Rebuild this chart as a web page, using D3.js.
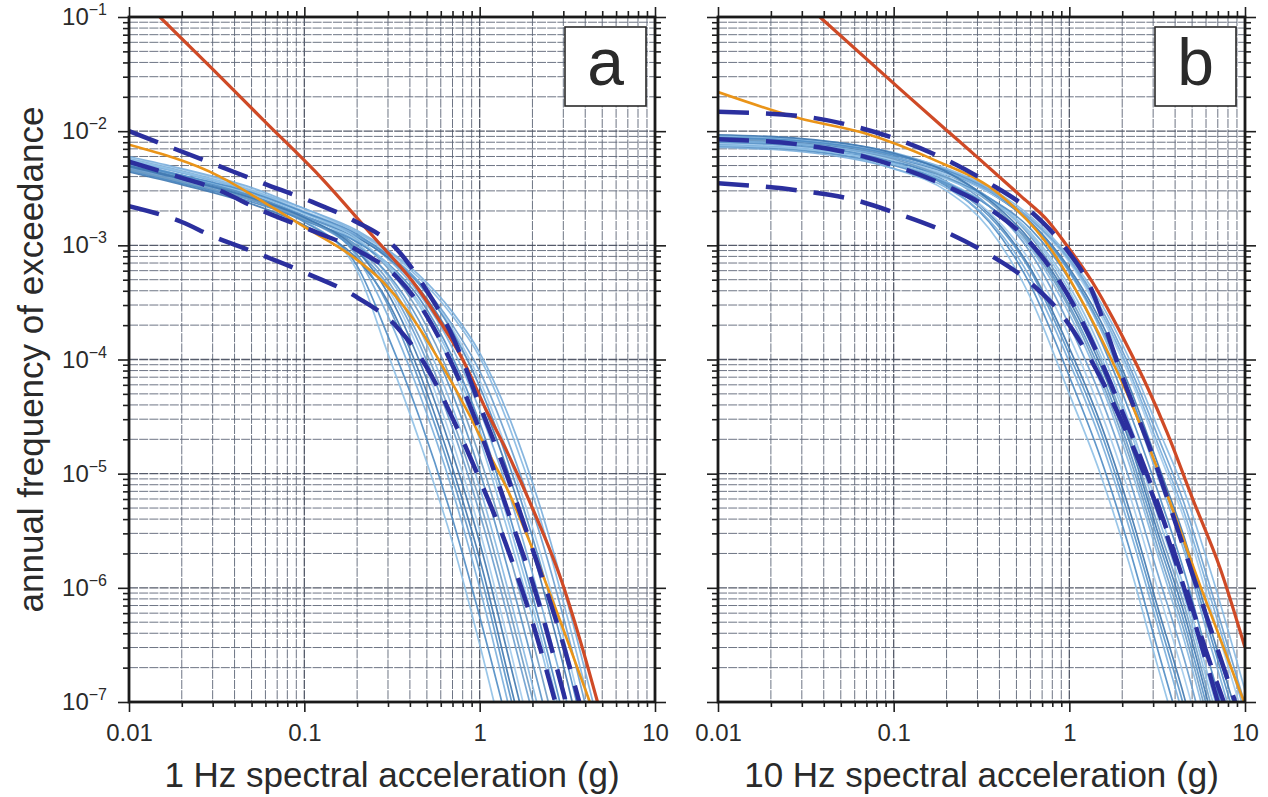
<!DOCTYPE html>
<html>
<head>
<meta charset="utf-8">
<script src="https://cdn.jsdelivr.net/npm/d3@7"></script>
<style>
  body { margin: 0; background: #fff; }
  svg { display: block; }
  text { font-family: "Liberation Sans", Arial, Helvetica, sans-serif; fill: #2a2a2a; }
</style>
</head>
<body>
<svg id="chart" width="1268" height="797"></svg>
<script>
// ---------- axis ticks ----------
const xTickValues = [0.01, 0.1, 1, 10];
const xTickLabels = ["0.01", "0.1", "1", "10"];
const yTickExponents = [-1, -2, -3, -4, -5, -6, -7];

// ---------- panel a : 1 Hz ----------
const saGridA = [0.01, 0.02, 0.05, 0.1, 0.2, 0.3, 0.45, 0.7, 1, 1.5, 2.2, 3.2, 4.5];
const branchesA = [
  [5.0e-3, 3.8e-3, 2.6e-3, 1.66e-3, 6.0e-4, 1.12e-4, 2.0e-5, 2.5e-6, 3.2e-7, 2.5e-8],
  [4.6e-3, 3.5e-3, 2.4e-3, 1.6e-3, 6.6e-4, 1.6e-4, 3.2e-5, 4.0e-6, 5.6e-7, 5.0e-8],
  [5.4e-3, 4.1e-3, 2.8e-3, 1.8e-3, 7.9e-4, 2.4e-4, 5.2e-5, 7.1e-6, 1.0e-6, 7.9e-8],
  [4.4e-3, 3.4e-3, 2.3e-3, 1.5e-3, 7.6e-4, 3.2e-4, 7.9e-5, 1.12e-5, 1.8e-6, 1.4e-7, 1.26e-8],
  [5.6e-3, 4.3e-3, 2.9e-3, 1.86e-3, 9.5e-4, 4.2e-4, 1.2e-4, 1.9e-5, 3.2e-6, 2.8e-7, 2.5e-8],
  [4.9e-3, 3.8e-3, 2.6e-3, 1.7e-3, 8.9e-4, 4.5e-4, 1.4e-4, 2.5e-5, 4.5e-6, 4.5e-7, 4.5e-8],
  [5.2e-3, 4.1e-3, 2.8e-3, 1.8e-3, 1.05e-3, 5.4e-4, 1.9e-4, 3.8e-5, 7.6e-6, 7.9e-7, 7.9e-8],
  [4.7e-3, 3.6e-3, 2.5e-3, 1.66e-3, 1.0e-3, 5.6e-4, 2.2e-4, 5.0e-5, 1.05e-5, 1.2e-6, 1.26e-7, 1.26e-8],
  [5.8e-3, 4.5e-3, 3.0e-3, 1.95e-3, 1.12e-3, 6.3e-4, 2.6e-4, 6.3e-5, 1.4e-5, 1.8e-6, 2.0e-7, 2.0e-8],
  [5.1e-3, 4.0e-3, 2.8e-3, 1.8e-3, 1.1e-3, 6.6e-4, 3.0e-4, 8.3e-5, 2.0e-5, 2.6e-6, 3.2e-7, 3.2e-8],
  [4.5e-3, 3.5e-3, 2.5e-3, 1.66e-3, 1.07e-3, 6.9e-4, 3.5e-4, 1.05e-4, 2.8e-5, 4.0e-6, 5.0e-7, 5.0e-8],
  [5.5e-3, 4.3e-3, 3.0e-3, 1.95e-3, 1.2e-3, 7.6e-4, 3.8e-4, 1.26e-4, 3.6e-5, 6.0e-6, 7.9e-7, 8.9e-8, 8.9e-9],
  [5.0e-3, 3.9e-3, 2.7e-3, 1.8e-3, 1.17e-3, 7.8e-4, 4.2e-4, 1.5e-4, 4.8e-5, 8.9e-6, 1.26e-6, 1.4e-7, 1.4e-8],
  [5.9e-3, 4.6e-3, 3.1e-3, 2.0e-3, 1.3e-3, 8.5e-4, 4.8e-4, 1.86e-4, 6.6e-5, 1.3e-5, 2.1e-6, 2.5e-7, 2.8e-8],
  [4.8e-3, 3.7e-3, 2.6e-3, 1.8e-3, 1.2e-3, 8.3e-4, 4.8e-4, 2.0e-4, 7.9e-5, 1.7e-5, 3.0e-6, 3.8e-7, 4.5e-8],
  [5.6e-3, 4.4e-3, 3.0e-3, 2.1e-3, 1.3e-3, 8.9e-4, 5.2e-4, 2.4e-4, 1.05e-4, 2.4e-5, 4.2e-6, 5.2e-7, 6.6e-8],
  [5.3e-3, 4.0e-3, 2.7e-3, 1.75e-3, 8.3e-4, 3.0e-4, 6.6e-5, 9.1e-6, 1.4e-6, 1.1e-7, 1.0e-8],
  [4.6e-3, 3.6e-3, 2.5e-3, 1.7e-3, 9.6e-4, 4.9e-4, 1.6e-4, 3.0e-5, 5.8e-6, 6.0e-7, 6.0e-8],
  [5.7e-3, 4.4e-3, 3.0e-3, 1.9e-3, 1.15e-3, 6.8e-4, 3.2e-4, 9.5e-5, 2.4e-5, 3.3e-6, 4.0e-7, 4.0e-8],
  [5.2e-3, 4.1e-3, 2.9e-3, 1.95e-3, 1.25e-3, 8.1e-4, 4.6e-4, 1.75e-4, 5.8e-5, 1.1e-5, 1.7e-6, 2.0e-7, 2.2e-8],
  [6.0e-3, 4.7e-3, 3.2e-3, 2.1e-3, 1.35e-3, 9.1e-4, 5.5e-4, 2.6e-4, 1.15e-4, 2.9e-5, 5.3e-6, 7.0e-7, 9.0e-8],
  [4.9e-3, 3.8e-3, 2.6e-3, 1.75e-3, 9.0e-4, 3.8e-4, 1.0e-4, 1.5e-5, 2.5e-6, 2.1e-7, 1.9e-8]
];

const redSaA = [0.015, 0.03, 0.06, 0.123, 0.25, 0.42, 0.6, 0.8, 1.1, 1.45, 2.0, 2.95, 3.8, 4.7];
const redFreqA = [1.0e-1, 3.5e-2, 1.2e-2, 4.0e-3, 1.17e-3, 4.7e-4, 2.1e-4, 1.0e-4, 3.5e-5, 1.5e-5, 5.0e-6, 1.12e-6, 3.2e-7, 1.0e-7];

const orangeSaA = [0.01, 0.033, 0.064, 0.104, 0.19, 0.28, 0.385, 0.6, 0.88, 1.05, 1.45, 2.0, 2.9, 4.25];
const orangeFreqA = [7.6e-3, 4.0e-3, 2.2e-3, 1.4e-3, 7.9e-4, 4.8e-4, 2.7e-4, 9.3e-5, 3.2e-5, 1.86e-5, 7.1e-6, 2.2e-6, 5.0e-7, 1.0e-7];

const upperSaA = [0.01, 0.03, 0.058, 0.111, 0.19, 0.34, 0.5, 0.7, 1.0, 1.5, 2.0, 3.0, 3.7];
const upperFreqA = [1.0e-2, 5.2e-3, 3.5e-3, 2.4e-3, 1.66e-3, 9.1e-4, 4.0e-4, 1.6e-4, 4.0e-5, 7.9e-6, 2.2e-6, 3.2e-7, 1.0e-7];

const medianSaA = [0.01, 0.02, 0.03, 0.058, 0.11, 0.2, 0.34, 0.5, 0.71, 1.0, 1.5, 2.0, 3.1];
const medianFreqA = [5.4e-3, 3.9e-3, 3.2e-3, 2.0e-3, 1.35e-3, 9.1e-4, 5.2e-4, 2.4e-4, 8.5e-5, 2.4e-5, 4.0e-6, 1.12e-6, 1.0e-7];

const lowerSaA = [0.01, 0.02, 0.03, 0.05, 0.1, 0.2, 0.34, 0.5, 0.72, 1.0, 1.4, 2.0, 2.7];
const lowerFreqA = [2.2e-3, 1.6e-3, 1.2e-3, 8.9e-4, 5.8e-4, 3.5e-4, 1.9e-4, 8.5e-5, 2.8e-5, 8.9e-6, 2.5e-6, 5.0e-7, 1.0e-7];

// ---------- panel b : 10 Hz ----------
const saGridB = [0.01, 0.03, 0.1, 0.2, 0.35, 0.6, 1.0, 1.5, 2.2, 3.2, 4.5, 6.5, 10];
const branchesB = [
  [7.6e-3, 6.9e-3, 4.7e-3, 3.0e-3, 1.4e-3, 3.5e-4, 5.0e-5, 1.0e-5, 1.6e-6, 2.0e-7, 3.2e-8],
  [8.3e-3, 7.6e-3, 5.2e-3, 3.3e-3, 1.6e-3, 4.5e-4, 7.1e-5, 1.4e-5, 2.2e-6, 2.8e-7, 4.5e-8],
  [7.2e-3, 6.6e-3, 4.7e-3, 3.2e-3, 1.66e-3, 5.2e-4, 9.5e-5, 2.0e-5, 3.3e-6, 4.5e-7, 7.1e-8],
  [8.7e-3, 7.9e-3, 5.6e-3, 3.6e-3, 1.9e-3, 6.3e-4, 1.26e-4, 2.8e-5, 4.8e-6, 6.6e-7, 1.12e-7, 1.26e-8],
  [7.8e-3, 7.1e-3, 5.1e-3, 3.5e-3, 1.95e-3, 7.2e-4, 1.6e-4, 3.6e-5, 6.6e-6, 9.5e-7, 1.66e-7, 2.0e-8],
  [9.1e-3, 8.3e-3, 5.9e-3, 4.0e-3, 2.2e-3, 8.7e-4, 2.0e-4, 4.8e-5, 8.9e-6, 1.3e-6, 2.4e-7, 2.8e-8],
  [7.9e-3, 7.2e-3, 5.2e-3, 3.6e-3, 2.2e-3, 9.5e-4, 2.5e-4, 6.3e-5, 1.2e-5, 1.9e-6, 3.5e-7, 4.2e-8],
  [7.4e-3, 6.8e-3, 5.0e-3, 3.5e-3, 2.2e-3, 1.05e-3, 3.0e-4, 7.9e-5, 1.6e-5, 2.6e-6, 5.0e-7, 6.0e-8],
  [8.9e-3, 8.1e-3, 6.0e-3, 4.2e-3, 2.6e-3, 1.2e-3, 3.6e-4, 1.0e-4, 2.1e-5, 3.5e-6, 7.1e-7, 8.7e-8, 8.9e-9],
  [8.1e-3, 7.6e-3, 5.6e-3, 4.0e-3, 2.6e-3, 1.3e-3, 4.4e-4, 1.26e-4, 2.8e-5, 5.0e-6, 1.0e-6, 1.26e-7, 1.26e-8],
  [7.6e-3, 7.1e-3, 5.4e-3, 3.9e-3, 2.6e-3, 1.4e-3, 5.0e-4, 1.5e-4, 3.5e-5, 6.9e-6, 1.4e-6, 1.8e-7, 1.9e-8],
  [9.1e-3, 8.5e-3, 6.5e-3, 4.6e-3, 3.0e-3, 1.55e-3, 5.8e-4, 1.86e-4, 4.6e-5, 9.3e-6, 2.1e-6, 2.8e-7, 3.0e-8],
  [8.3e-3, 7.8e-3, 5.9e-3, 4.3e-3, 2.9e-3, 1.6e-3, 6.3e-4, 2.2e-4, 5.8e-5, 1.2e-5, 2.8e-6, 4.0e-7, 4.5e-8],
  [7.8e-3, 7.2e-3, 5.6e-3, 4.2e-3, 2.9e-3, 1.66e-3, 7.1e-4, 2.5e-4, 7.1e-5, 1.6e-5, 4.0e-6, 6.0e-7, 6.6e-8],
  [8.7e-3, 8.1e-3, 6.2e-3, 4.6e-3, 3.1e-3, 1.7e-3, 7.6e-4, 2.9e-4, 8.7e-5, 2.1e-5, 5.5e-6, 8.9e-7, 9.5e-8],
  [8.9e-3, 8.3e-3, 6.3e-3, 4.7e-3, 3.2e-3, 1.8e-3, 7.9e-4, 3.2e-4, 1.0e-4, 2.5e-5, 7.1e-6, 1.26e-6, 1.26e-7],
  [8.0e-3, 7.4e-3, 5.3e-3, 3.4e-3, 1.8e-3, 6.0e-4, 1.1e-4, 2.4e-5, 4.0e-6, 5.5e-7, 9.0e-8, 1.0e-8],
  [8.5e-3, 7.8e-3, 5.7e-3, 3.9e-3, 2.4e-3, 1.0e-3, 2.8e-4, 7.0e-5, 1.4e-5, 2.2e-6, 4.2e-7, 5.0e-8],
  [7.5e-3, 7.0e-3, 5.2e-3, 3.8e-3, 2.5e-3, 1.25e-3, 4.0e-4, 1.1e-4, 2.5e-5, 4.2e-6, 8.5e-7, 1.05e-7, 1.1e-8],
  [8.8e-3, 8.2e-3, 6.2e-3, 4.5e-3, 3.0e-3, 1.6e-3, 6.0e-4, 2.0e-4, 5.2e-5, 1.05e-5, 2.4e-6, 3.4e-7, 3.7e-8],
  [8.2e-3, 7.7e-3, 5.9e-3, 4.4e-3, 3.0e-3, 1.72e-3, 7.4e-4, 2.7e-4, 7.8e-5, 1.8e-5, 4.6e-6, 7.4e-7, 8.0e-8],
  [9.3e-3, 8.6e-3, 6.4e-3, 4.4e-3, 2.5e-3, 1.1e-3, 3.3e-4, 9.0e-5, 1.9e-5, 3.0e-6, 6.0e-7, 7.2e-8]
];

const redSaB = [0.038, 0.11, 0.2, 0.3, 0.53, 0.75, 1.0, 1.36, 1.77, 2.3, 2.8, 3.6, 5.06, 7.2, 10];
const redFreqB = [1.0e-1, 2.3e-2, 1.02e-2, 5.9e-3, 2.7e-3, 1.66e-3, 9.3e-4, 4.7e-4, 2.3e-4, 1.05e-4, 5.6e-5, 2.3e-5, 5.9e-6, 1.5e-6, 3.0e-7];

const orangeSaB = [0.01, 0.029, 0.07, 0.17, 0.4, 0.8, 1.15, 1.6, 2.2, 3.6, 5.55, 10];
const orangeFreqB = [2.2e-2, 1.3e-2, 9.5e-3, 5.6e-3, 2.8e-3, 8.9e-4, 3.5e-4, 1.3e-4, 4.5e-5, 6.6e-6, 1.05e-6, 9.5e-8];

const upperSaB = [0.01, 0.03, 0.06, 0.1, 0.2, 0.35, 0.6, 0.9, 1.3, 2.0, 3.0, 4.5, 6.5, 8.8];
const upperFreqB = [1.48e-2, 1.35e-2, 1.1e-2, 8.7e-3, 5.6e-3, 3.5e-3, 2.0e-3, 1.05e-3, 4.5e-4, 7.1e-5, 1.4e-5, 2.2e-6, 4.0e-7, 1.0e-7];

const medianSaB = [0.01, 0.03, 0.06, 0.1, 0.2, 0.35, 0.6, 1.0, 1.5, 2.0, 3.0, 4.5, 6.0, 8.0];
const medianFreqB = [8.5e-3, 7.6e-3, 6.3e-3, 5.0e-3, 3.3e-3, 2.1e-3, 1.05e-3, 3.5e-4, 1.0e-4, 3.5e-5, 7.1e-6, 1.12e-6, 2.8e-7, 7.9e-8];

const lowerSaB = [0.01, 0.03, 0.06, 0.1, 0.2, 0.35, 0.6, 0.9, 1.3, 2.0, 3.0, 4.5, 7.0];
const lowerFreqB = [3.5e-3, 3.0e-3, 2.5e-3, 1.95e-3, 1.3e-3, 8.3e-4, 4.7e-4, 2.5e-4, 1.05e-4, 2.8e-5, 6.3e-6, 1.0e-6, 1.0e-7];

// ---------- styling ----------
const branchColors = ["#8fc0e6", "#4f8cc4", "#7aaedb", "#3f78b0", "#a3cbec", "#6a9fcf", "#86b8e2", "#5a93c8", "#6f9cc4"];
const RED = "#cf4a26", ORANGE = "#ea9418", NAVY = "#2b2f9e";

const svg = d3.select("#chart");
const plotTop = 17, plotBottom = 702;

const panels = [
  { id: "a", left: 129, right: 655, grid: saGridA, branches: branchesA,
    red: [redSaA, redFreqA], orange: [orangeSaA, orangeFreqA],
    dashed: [[upperSaA, upperFreqA], [medianSaA, medianFreqA], [lowerSaA, lowerFreqA]],
    title: "1 Hz spectral acceleration (g)", yLabels: true },
  { id: "b", left: 718, right: 1245, grid: saGridB, branches: branchesB,
    red: [redSaB, redFreqB], orange: [orangeSaB, orangeFreqB],
    dashed: [[upperSaB, upperFreqB], [medianSaB, medianFreqB], [lowerSaB, lowerFreqB]],
    title: "10 Hz spectral acceleration (g)", yLabels: false }
];

const zip = (xs, ys) => ys.map((v, i) => [xs[i], v]);
const isDecade = v => Math.abs(Math.log10(v) - Math.round(Math.log10(v))) < 1e-6;

panels.forEach(p => {
  const x = d3.scaleLog().domain([0.01, 10]).range([p.left, p.right]);
  const y = d3.scaleLog().domain([1e-7, 1e-1]).range([plotBottom, plotTop]);
  const g = svg.append("g").attr("class", "panel-" + p.id);

  const xAll = x.ticks();
  const yAll = y.ticks();
  const xMinor = xAll.filter(v => !isDecade(v));
  const yMinor = yAll.filter(v => !isDecade(v));
  const xMajor = xAll.filter(isDecade);
  const yMajor = yAll.filter(isDecade);

  // grid
  const grid = g.append("g").attr("class", "grid");
  grid.selectAll("line.gx").data(xAll).join("line")
    .attr("x1", d => x(d)).attr("x2", d => x(d)).attr("y1", plotTop).attr("y2", plotBottom)
    .attr("stroke", d => isDecade(d) ? "#434a5a" : "#5f6778")
    .attr("stroke-width", d => isDecade(d) ? 1.3 : 1)
    .attr("stroke-dasharray", "9,1.2").attr("opacity", 0.9);
  grid.selectAll("line.gy").data(yAll).join("line")
    .attr("y1", d => y(d)).attr("y2", d => y(d)).attr("x1", p.left).attr("x2", p.right)
    .attr("stroke", d => isDecade(d) ? "#434a5a" : "#5f6778")
    .attr("stroke-width", d => isDecade(d) ? 1.3 : 1)
    .attr("stroke-dasharray", "9,1.2").attr("opacity", 0.9);

  // curves
  const clipId = "clip-" + p.id;
  svg.append("defs").append("clipPath").attr("id", clipId)
    .append("rect").attr("x", p.left).attr("y", plotTop)
    .attr("width", p.right - p.left).attr("height", plotBottom - plotTop);
  const curves = g.append("g").attr("clip-path", `url(#${clipId})`);
  const line = d3.line().x(d => x(d[0])).y(d => y(d[1])).curve(d3.curveMonotoneX);

  curves.selectAll("path.branch").data(p.branches).join("path")
    .attr("class", "branch")
    .attr("d", d => line(zip(p.grid, d)))
    .attr("fill", "none")
    .attr("stroke", (d, i) => branchColors[i % branchColors.length])
    .attr("stroke-width", 1.7).attr("opacity", 0.9);

  curves.append("path").attr("d", line(zip(p.red[0], p.red[1])))
    .attr("fill", "none").attr("stroke", RED).attr("stroke-width", 3.2);
  curves.append("path").attr("d", line(zip(p.orange[0], p.orange[1])))
    .attr("fill", "none").attr("stroke", ORANGE).attr("stroke-width", 2.6);

  curves.selectAll("path.fractile").data(p.dashed).join("path")
    .attr("class", "fractile")
    .attr("d", d => line(zip(d[0], d[1])))
    .attr("fill", "none").attr("stroke", NAVY).attr("stroke-width", 4.5)
    .attr("stroke-dasharray", "31,17");

  // frame ticks (outside on all four sides)
  const tickStyle = sel => {
    sel.select(".domain").remove();
    sel.selectAll(".tick line").attr("stroke", "#1e1e1e").attr("stroke-width", 1.6);
  };
  const bx = d3.axisBottom(x).tickValues(xMajor).tickSize(10).tickPadding(12)
    .tickFormat(d => xTickLabels[xTickValues.findIndex(v => Math.abs(v - d) < 1e-9)]);
  g.append("g").attr("transform", `translate(0,${plotBottom})`).call(bx).call(tickStyle)
    .selectAll("text").attr("font-size", 24).attr("font-family", '"Liberation Sans", Arial, sans-serif').attr("fill", "#2a2a2a");
  g.append("g").attr("transform", `translate(0,${plotBottom})`)
    .call(d3.axisBottom(x).tickValues(xMinor).tickSize(5).tickFormat("")).call(tickStyle);
  g.append("g").attr("transform", `translate(0,${plotTop})`)
    .call(d3.axisTop(x).tickValues(xMajor).tickSize(10).tickFormat("")).call(tickStyle);
  g.append("g").attr("transform", `translate(0,${plotTop})`)
    .call(d3.axisTop(x).tickValues(xMinor).tickSize(6).tickFormat("")).call(tickStyle);
  g.append("g").attr("transform", `translate(${p.left},0)`)
    .call(d3.axisLeft(y).tickValues(yMajor).tickSize(11).tickFormat("")).call(tickStyle);
  g.append("g").attr("transform", `translate(${p.left},0)`)
    .call(d3.axisLeft(y).tickValues(yMinor).tickSize(6).tickFormat("")).call(tickStyle);
  g.append("g").attr("transform", `translate(${p.right},0)`)
    .call(d3.axisRight(y).tickValues(yMajor).tickSize(11).tickFormat("")).call(tickStyle);
  g.append("g").attr("transform", `translate(${p.right},0)`)
    .call(d3.axisRight(y).tickValues(yMinor).tickSize(6).tickFormat("")).call(tickStyle);

  // frame
  g.append("rect").attr("x", p.left).attr("y", plotTop)
    .attr("width", p.right - p.left).attr("height", plotBottom - plotTop)
    .attr("fill", "none").attr("stroke", "#1a1a1a").attr("stroke-width", 2.8);

  // y tick labels: 10 with superscript exponent
  if (p.yLabels) {
    const lab = g.append("g").selectAll("text").data(yTickExponents).join("text")
      .attr("x", p.left - 22).attr("y", d => y(Math.pow(10, d)) + 8)
      .attr("text-anchor", "end").attr("font-size", 24);
    lab.append("tspan").text("10");
    lab.append("tspan").attr("font-size", 16).attr("dy", -10).text(d => "\u2212" + Math.abs(d));
  }

  // panel letter box
  g.append("rect").attr("x", p.right - 90).attr("y", plotTop + 10).attr("width", 81).attr("height", 79)
    .attr("fill", "#fff").attr("stroke", "#2a2a2a").attr("stroke-width", 1.6);
  g.append("text").attr("x", p.right - 49.5).attr("y", plotTop + 68)
    .attr("text-anchor", "middle").attr("font-size", 66).text(p.id);

  // x title
  g.append("text").attr("x", (p.left + p.right) / 2).attr("y", 787)
    .attr("text-anchor", "middle").attr("font-size", 35).text(p.title);
});

// y title
svg.append("text").attr("transform", `translate(43,${(plotTop + plotBottom) / 2}) rotate(-90)`)
  .attr("text-anchor", "middle").attr("font-size", 35).text("annual frequency of exceedance");
</script>
</body>
</html>
